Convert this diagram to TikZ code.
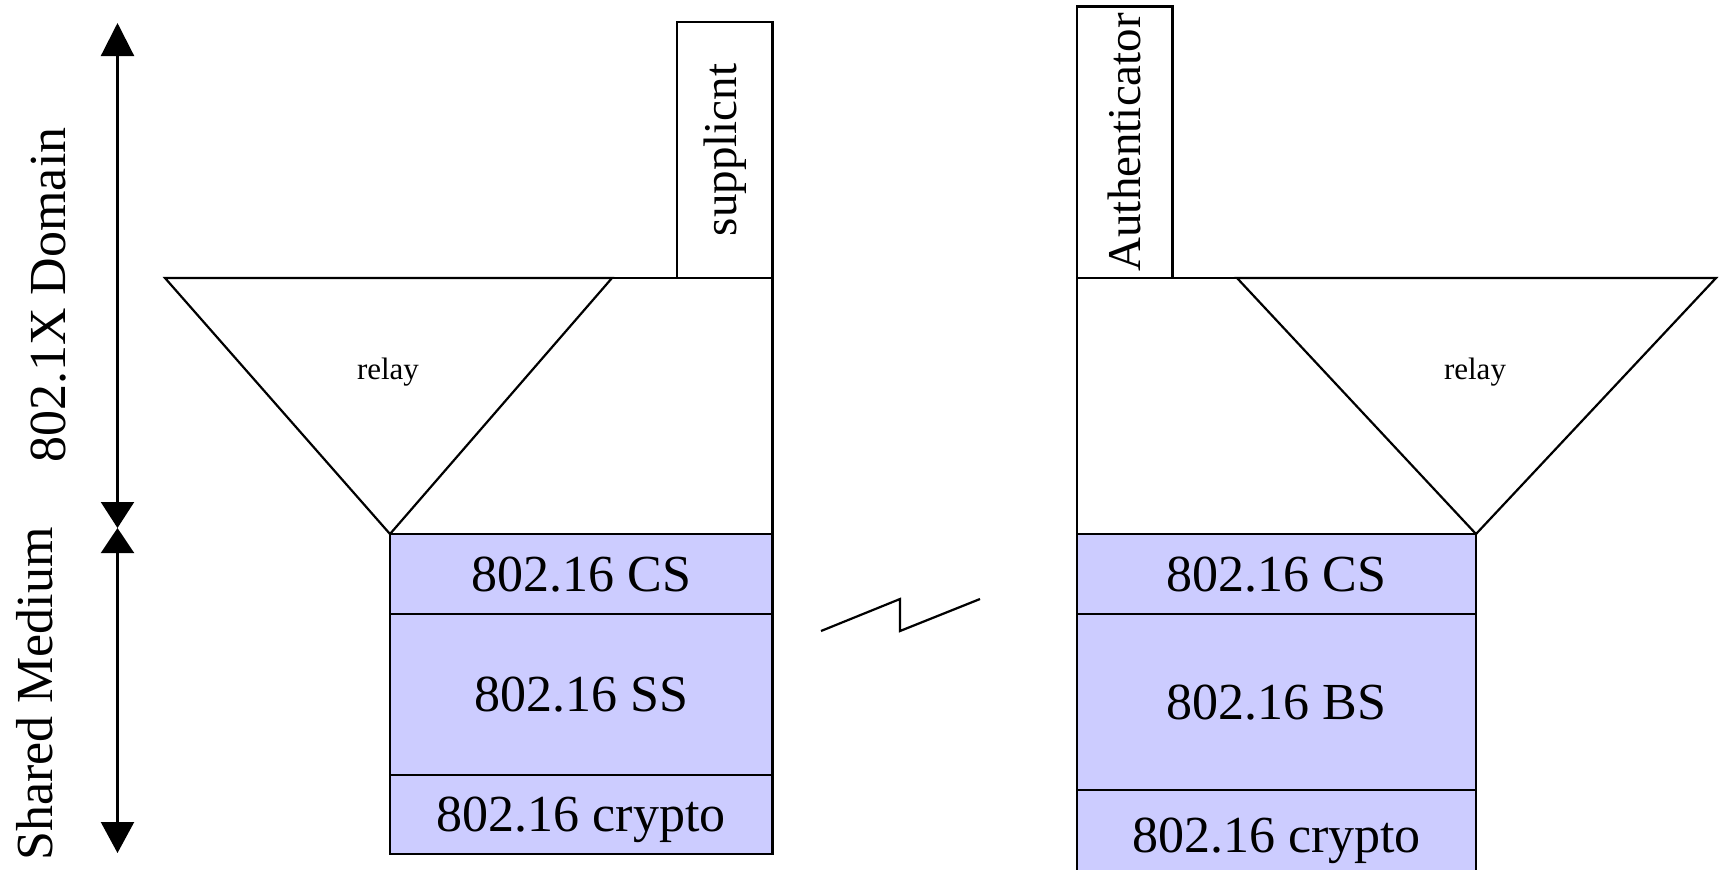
\documentclass[tikz,border=0pt]{standalone}
\usepackage{fontspec}
\setmainfont{Liberation Serif}
\usetikzlibrary{arrows.meta}

\definecolor{layerblue}{RGB}{204,204,255}

\tikzset{
  layer/.style={draw, fill=layerblue},
  bigtxt/.style={font=\fontsize{26}{30}\selectfont, inner sep=0pt, text height=17.2pt, text depth=0pt},
  roletxt/.style={font=\fontsize{23.5}{28}\selectfont, rotate=90, inner sep=0pt},
  sidetxt/.style={font=\fontsize{26}{30}\selectfont, rotate=90, inner sep=0pt},
  relaytxt/.style={font=\fontsize{15.5}{18}\selectfont, inner sep=0pt},
  uparrow/.style={{Triangle[length=16.5pt,width=16.5pt]}-{Triangle[length=13pt,width=16.5pt]}},
  downarrow/.style={{Triangle[length=12.5pt,width=16.5pt]}-{Triangle[length=15.5pt,width=16.5pt]}}
}

\begin{document}
\begin{tikzpicture}[x=0.5pt, y=-0.5pt, line width=1.1pt]
        \clip (0,0) rectangle (1723,869) ;

        % domain arrows on the left
        \coordinate (dtop) at (117.5,23) ;
        \coordinate (dmid) at (117.5,528) ;
        \coordinate (dbot) at (117.5,853) ;
        \draw[uparrow] (dtop) -- (dmid) ;
        \draw[downarrow] (dmid) -- (dbot) ;
        \node[sidetxt] (domain) at (49,295) {802.1X Domain} ;
        \node[sidetxt] (shared) at (35,694) {Shared Medium} ;

        % supplicant side
        \draw (165,278) -- (612,278) -- (390,534) -- cycle ;
        \node[relaytxt] (lrelay) at (388,372) {relay} ;
        \draw (612,278) -- (772.5,278) -- (772.5,534) ;
        \draw (677,278) rectangle node[roletxt] (supp) {supplicnt} (772.5,22) ;
        \draw[layer] (390,534) rectangle node[bigtxt] (lcs) {802.16 CS} (772.5,614) ;
        \draw[layer] (390,614) rectangle node[bigtxt] (lss) {802.16 SS} (772.5,775) ;
        \draw[layer] (390,775) rectangle node[bigtxt] (lcrypto) {802.16 crypto} (772.5,854) ;

        % radio link
        \draw (821,631) -- (900,599) -- (900,631) -- (980,599) ;

        % authenticator side
        \draw (1237,278) -- (1716,278) -- (1476,534) -- cycle ;
        \node[relaytxt] (rrelay) at (1475,372) {relay} ;
        \draw (1237,278) -- (1077,278) -- (1077,534) ;
        \draw (1077,278) rectangle node[roletxt] (auth) {Authenticator} (1172.5,6.5) ;
        \draw[layer] (1077,534) rectangle node[bigtxt] (rcs) {802.16 CS} (1476,614) ;
        \draw[layer] (1077,614) rectangle node[bigtxt] (rbs) {802.16 BS} (1476,790) ;
        \draw[layer] (1077,790) rectangle node[bigtxt] (rcrypto) {802.16 crypto} (1476,880) ;
\end{tikzpicture}
\end{document}
